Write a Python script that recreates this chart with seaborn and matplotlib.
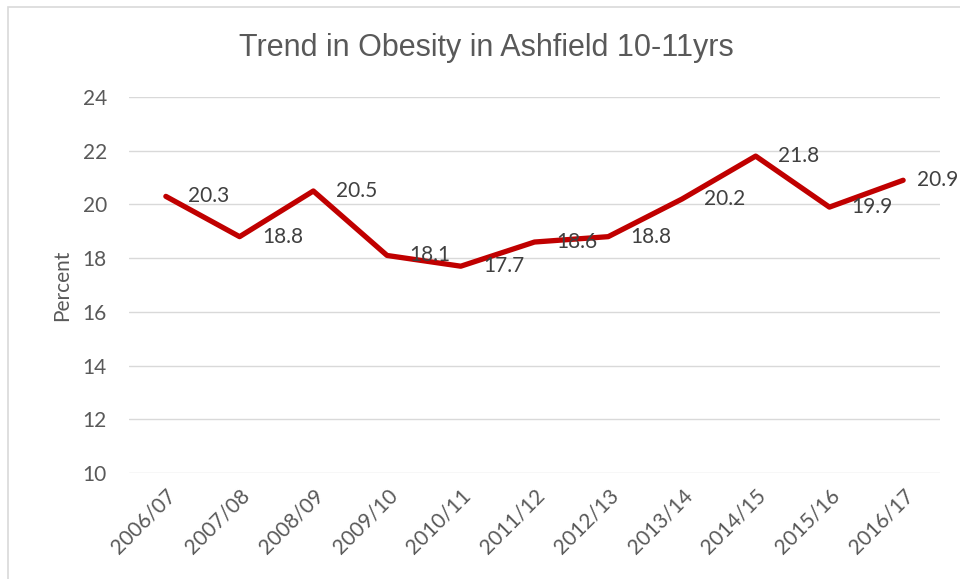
import matplotlib
matplotlib.use("Agg")
import matplotlib.pyplot as plt
import seaborn as sns
import pandas as pd
from matplotlib.patches import Rectangle

# dados
anos = ["2006/07", "2007/08", "2008/09", "2009/10", "2010/11", "2011/12",
        "2012/13", "2013/14", "2014/15", "2015/16", "2016/17"]
obesidade = [20.3, 18.8, 20.5, 18.1, 17.7, 18.6, 18.8, 20.2, 21.8, 19.9, 20.9]
y_ticks = [10, 12, 14, 16, 18, 20, 22, 24]

sns.set_theme(style="white")
plt.rcParams['font.family'] = ['Lato', 'DejaVu Sans']

cinza = "#595959"
grade = "#D9D9D9"

df = pd.DataFrame({"Ano": anos, "Percent": obesidade})

fig = plt.figure(figsize=(9.6, 5.79), dpi=100)
ax = fig.add_axes([129 / 960, 1 - 473 / 579, 811 / 960, 376 / 579])

sns.lineplot(data=df, x="Ano", y="Percent", ax=ax, color="#C00000",
             linewidth=3.8, sort=False)

ax.set_xlim(-0.5, len(anos) - 0.5)
ax.set_ylim(10, 24)
ax.set_yticks(y_ticks)
ax.grid(axis="y", color=grade, linewidth=1.0)
ax.grid(axis="x", visible=False)
ax.set_axisbelow(True)
for s in ax.spines.values():
    s.set_visible(False)

ax.tick_params(axis="y", length=0, pad=16, labelsize=15, labelcolor=cinza)
ax.tick_params(axis="x", length=0, pad=9, labelsize=15, labelcolor=cinza)
plt.setp(ax.get_xticklabels(), rotation=45, ha="right", rotation_mode="anchor")

ax.set_xlabel("")
ax.set_ylabel("Percent", fontsize=15, color=cinza)
ax.yaxis.set_label_coords(-0.07, 0.5)

# rotulos dos dados, a direita de cada ponto (o ultimo fica mais perto da borda)
for i, v in enumerate(obesidade):
    dx = 10 if i == len(obesidade) - 1 else 16
    ax.annotate(f"{v:.1f}", (i, v), xytext=(dx, 0), textcoords="offset points",
                ha="left", va="center", fontsize=15, color="#404040",
                annotation_clip=False)

fig.text(0.507, 1 - 48 / 579, "Trend in Obesity in Ashfield 10-11yrs",
         ha="center", va="center", fontsize=22, color=cinza,
         family=["Liberation Sans", "DejaVu Sans"])

# moldura do grafico
fig.patches.append(Rectangle((8 / 960, -0.02), 1.0, 1 - 7 / 579 + 0.02,
                             transform=fig.transFigure, fill=False,
                             edgecolor=grade, linewidth=1.2))

fig.savefig("out.png", dpi=100)
